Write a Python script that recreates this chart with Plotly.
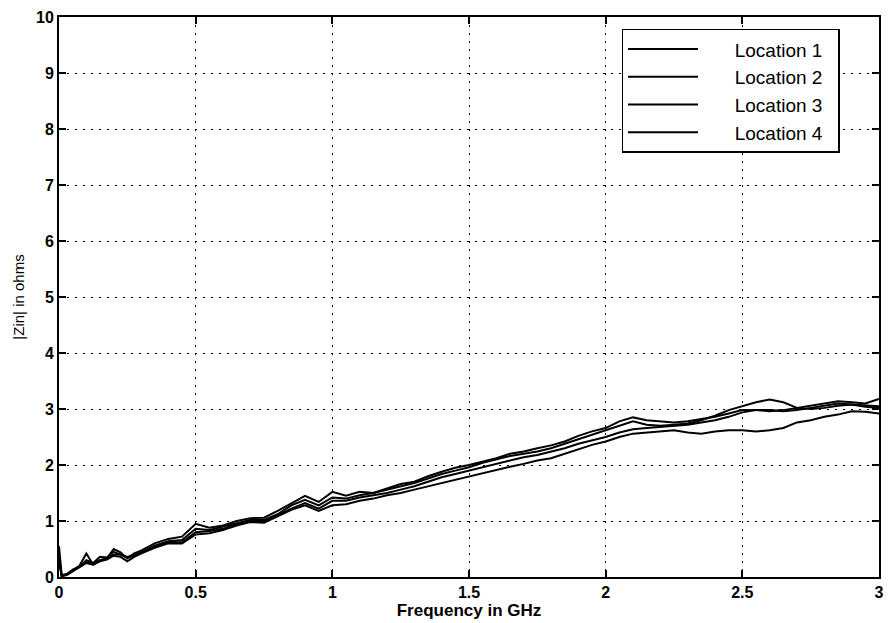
import plotly.graph_objects as go

freq = [0, 0.01, 0.03, 0.05, 0.075, 0.10, 0.125, 0.15, 0.175, 0.20, 0.225, 0.25, 0.275, 0.30,
        0.35, 0.40, 0.45, 0.50, 0.55, 0.60, 0.65, 0.70, 0.75, 0.80, 0.85, 0.90, 0.95, 1.00,
        1.05, 1.10, 1.15, 1.20, 1.25, 1.30, 1.35, 1.40, 1.45, 1.50,
        1.55, 1.60, 1.65, 1.70, 1.75, 1.80, 1.85, 1.90, 1.95, 2.00,
        2.05, 2.10, 2.15, 2.20, 2.25, 2.30, 2.35, 2.40, 2.45, 2.50,
        2.55, 2.60, 2.65, 2.70, 2.75, 2.80, 2.85, 2.90, 2.95, 3.00]

loc1 = [0.55, 0.03, 0.06, 0.12, 0.2, 0.42, 0.22, 0.3, 0.33, 0.5, 0.44, 0.33, 0.42, 0.47,
        0.6, 0.68, 0.72, 0.95, 0.88, 0.92, 1.0, 1.05, 1.06, 1.18, 1.32, 1.45, 1.34, 1.52,
        1.45, 1.52, 1.5, 1.58, 1.66, 1.7, 1.8, 1.88, 1.95, 2.0,
        2.06, 2.12, 2.2, 2.24, 2.3, 2.35, 2.42, 2.52, 2.6, 2.66,
        2.78, 2.85, 2.8, 2.78, 2.76, 2.78, 2.82, 2.86, 2.92, 2.98,
        2.98, 2.96, 2.98, 3.02, 3.06, 3.1, 3.14, 3.12, 3.1, 3.18]

loc2 = [0.35, 0.02, 0.05, 0.13, 0.18, 0.3, 0.25, 0.36, 0.35, 0.45, 0.4, 0.36, 0.4, 0.44,
        0.56, 0.64, 0.66, 0.86, 0.84, 0.9, 0.97, 1.02, 1.02, 1.12, 1.28, 1.38, 1.28, 1.42,
        1.4, 1.46, 1.5, 1.56, 1.62, 1.68, 1.76, 1.84, 1.9, 1.96,
        2.04, 2.1, 2.16, 2.2, 2.24, 2.3, 2.38, 2.46, 2.55, 2.62,
        2.7, 2.78, 2.72, 2.7, 2.72, 2.74, 2.8, 2.88, 2.98, 3.05,
        3.12, 3.17, 3.12, 3.02, 3.0, 3.02, 3.06, 3.08, 3.06, 3.05]

loc3 = [0.3, 0.02, 0.05, 0.11, 0.17, 0.26, 0.24, 0.3, 0.33, 0.4, 0.4, 0.34, 0.38, 0.44,
        0.55, 0.62, 0.62, 0.8, 0.82, 0.86, 0.95, 1.0, 1.0, 1.1, 1.22, 1.32, 1.22, 1.36,
        1.36, 1.42, 1.46, 1.5, 1.56, 1.62, 1.7, 1.78, 1.84, 1.9,
        1.96, 2.02, 2.08, 2.14, 2.18, 2.24, 2.3, 2.38, 2.44, 2.5,
        2.58, 2.64, 2.66, 2.68, 2.7, 2.72, 2.76, 2.8, 2.86, 2.94,
        2.98, 2.98, 2.96, 2.98, 3.02, 3.06, 3.1, 3.08, 3.04, 3.02]

loc4 = [0.3, 0.01, 0.04, 0.1, 0.16, 0.25, 0.22, 0.28, 0.31, 0.38, 0.36, 0.28, 0.36, 0.42,
        0.52, 0.6, 0.6, 0.76, 0.78, 0.84, 0.92, 0.98, 0.97, 1.08, 1.2, 1.28, 1.18, 1.28,
        1.3, 1.36, 1.4, 1.46, 1.5, 1.56, 1.62, 1.68, 1.74, 1.8,
        1.86, 1.92, 1.97, 2.02, 2.08, 2.12, 2.2, 2.28, 2.36, 2.42,
        2.5, 2.56, 2.58, 2.6, 2.62, 2.58, 2.56, 2.6, 2.62, 2.62,
        2.6, 2.62, 2.66, 2.76, 2.8, 2.86, 2.9, 2.96, 2.95, 2.92]

series_names = ["Location 1", "Location 2", "Location 3", "Location 4"]
series_vals = [loc1, loc2, loc3, loc4]

x_ticks = [0, 0.5, 1, 1.5, 2, 2.5, 3]
x_tick_labels = ["0", "0.5", "1", "1.5", "2", "2.5", "3"]
y_ticks = [0, 1, 2, 3, 4, 5, 6, 7, 8, 9, 10]

fig = go.Figure()
for name, vals in zip(series_names, series_vals):
    fig.add_trace(go.Scatter(x=freq, y=vals, mode="lines",
                             name="\u00a0" * 6 + name + "\u00a0" * 2,
                             line=dict(color="black", width=2)))

FONT = "Liberation Sans, Arial, sans-serif"
tickfont = dict(family=FONT, size=16, color="black", weight="bold")

fig.update_layout(
    width=892, height=623,
    margin=dict(l=59, r=8, t=17, b=44),
    paper_bgcolor="white", plot_bgcolor="white",
    showlegend=True,
    legend=dict(x=0.686, y=0.979, xanchor="left", yanchor="top",
                bgcolor="white", bordercolor="black", borderwidth=1.5,
                font=dict(family=FONT, size=19, color="black"),
                itemwidth=70, tracegroupgap=0),
    xaxis=dict(range=[0, 3], tickvals=x_ticks, ticktext=x_tick_labels,
               showline=True, linecolor="black", linewidth=2, mirror="ticks",
               ticks="inside", ticklen=7, tickwidth=2, tickcolor="black",
               showgrid=True, gridcolor="black", gridwidth=1.3, griddash="1.5px,6.5px",
               zeroline=False, tickfont=tickfont,
               title=dict(text="Frequency in GHz", standoff=2,
                          font=dict(family=FONT, size=17, color="black", weight="bold"))),
    yaxis=dict(range=[0, 10], tickvals=y_ticks,
               showline=True, linecolor="black", linewidth=2, mirror="ticks",
               ticks="inside", ticklen=7, tickwidth=2, tickcolor="black",
               showgrid=True, gridcolor="black", gridwidth=1.3, griddash="1.5px,6.5px",
               zeroline=False, tickfont=tickfont,
               title=dict(text="|Zin| in ohms", standoff=8,
                          font=dict(family=FONT, size=15, color="black"))),
)

fig.write_html("out.html")
